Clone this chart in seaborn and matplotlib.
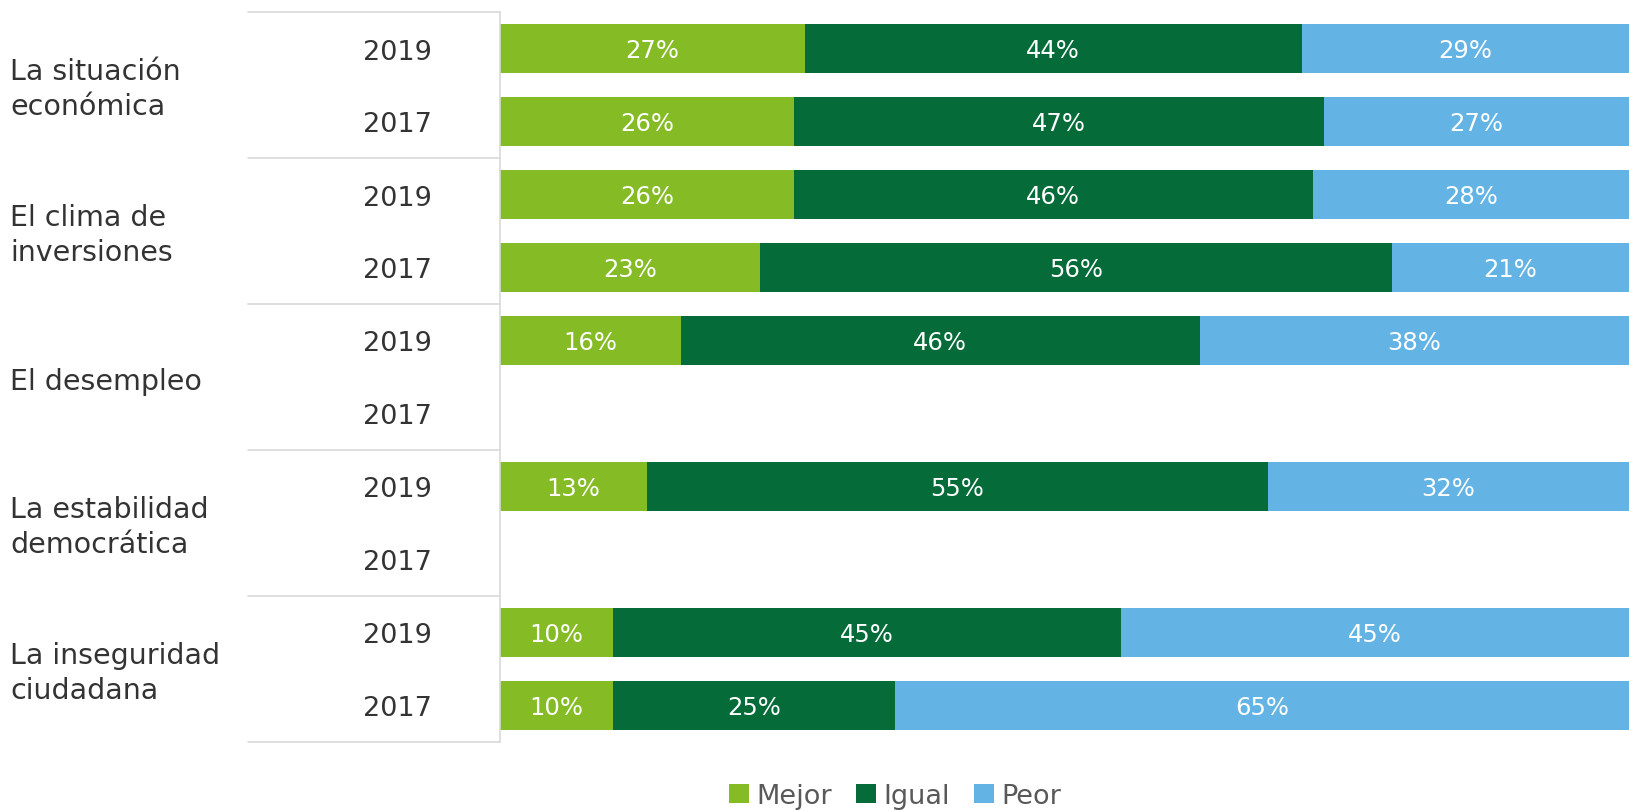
import matplotlib
matplotlib.use("Agg")
import matplotlib.pyplot as plt
import matplotlib.transforms as mtrans
from matplotlib.patches import Patch
import numpy as np
import pandas as pd
import seaborn as sns

# data
categories = ["La situación\neconómica", "El clima de\ninversiones", "El desempleo",
              "La estabilidad\ndemocrática", "La inseguridad\nciudadana"]
years = ["2019", "2017"]
mejor = [27, 26, 26, 23, 16, np.nan, 13, np.nan, 10, 10]
igual = [44, 47, 46, 56, 46, np.nan, 55, np.nan, 45, 25]
peor = [29, 27, 28, 21, 38, np.nan, 32, np.nan, 45, 65]
series = ["Mejor", "Igual", "Peor"]
colors = ["#85BC26", "#056B39", "#63B4E4"]

rows = [f"{c}|{y}" for c in categories for y in years]
df = pd.DataFrame({"row": rows, "Mejor": mejor, "Igual": igual, "Peor": peor})
df["c1"] = df["Mejor"]
df["c2"] = df["Mejor"] + df["Igual"]
df["c3"] = df["c2"] + df["Peor"]

sns.set_style("white")
plt.rcParams["font.family"] = ["DejaVu Sans"]

fig = plt.figure(figsize=(16.29, 8.12), dpi=100)
ax = fig.add_axes([500 / 1629, 1 - 743 / 812, 1129 / 1629, 730 / 812])

# stacked bars: draw cumulative totals, largest first
for col, color in zip(["c3", "c2", "c1"], colors[::-1]):
    sns.barplot(data=df, x=col, y="row", order=rows, color=color, width=0.66,
                orient="h", saturation=1, ax=ax, edgecolor="none")

ax.set_xlim(0, 100)
ax.set_ylim(len(rows) - 0.5, -0.5)
ax.set_xlabel("")
ax.set_ylabel("")
ax.set_xticks([])
ax.set_yticks(range(len(rows)))
ax.set_yticklabels([r.split("|")[1] for r in rows], fontsize=19.5, color="#333333")
ax.tick_params(axis="y", length=0, pad=49)
for side in ["top", "right", "bottom"]:
    ax.spines[side].set_visible(False)
ax.spines["left"].set_color("#d9d9d9")
ax.spines["left"].set_linewidth(1.2)

# segment labels
for i, r in df.iterrows():
    left = 0
    for s in series:
        v = r[s]
        if pd.notna(v):
            ax.text(left + v / 2, i + 0.02, f"{int(v)}%", ha="center", va="center",
                    color="white", fontsize=17.5)
            left += v

# group separators in the label column
for k in range(len(categories) + 1):
    ax.axhline(k * 2 - 0.5, xmin=(248 - 500) / 1129, xmax=0, color="#d9d9d9",
               lw=1.2, clip_on=False)

# category labels
trans = mtrans.blended_transform_factory(ax.transAxes, ax.transData)
for k, c in enumerate(categories):
    ax.text((10 - 500) / 1129, k * 2 + 0.55, c, transform=trans, ha="left",
            va="center", fontsize=20.5, color="#333333", linespacing=1.3)

handles = [Patch(facecolor=c, edgecolor="none") for c in colors]
fig.legend(handles, series, loc="center", bbox_to_anchor=(895 / 1629, 1 - 797 / 812),
           ncol=3, frameon=False, fontsize=19.5, handlelength=0.75, handleheight=0.75,
           handletextpad=0.25, columnspacing=0.9, labelcolor="#595959")

fig.savefig("out.png", dpi=100)
